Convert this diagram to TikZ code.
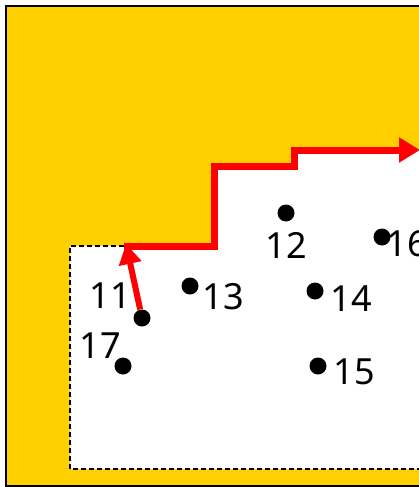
\documentclass[tikz,border=0pt]{standalone}
\usepackage{fontspec}
\setmainfont{Noto Sans}
\usetikzlibrary{positioning, arrows.meta}
\definecolor{amber}{RGB}{255, 207, 0}

\begin{document}
\begin{tikzpicture}[x=1pt, y=-1pt,
    dot/.style={circle, fill=black, inner sep=0pt, minimum size=17pt},
    num/.style={inner sep=0pt, font=\fontsize{36}{40}\selectfont},
    route/.style={draw=red, line width=7pt, -{Triangle[length=21pt, width=24pt]}}]
    \useasboundingbox (0,0) rectangle (419,487);
    \clip (0,0) rectangle (419,487);
    % background and free area
    \draw[fill=amber, line width=2.4pt] (6,6) rectangle (440,486);
    \fill[white] (70,469) -- (70,246) -- (214,246) -- (214,166) -- (294,166)
        -- (294,150) -- (440,150) -- (440,469) -- cycle;
    \draw[dashed, dash pattern=on 5pt off 3pt, line width=1.5pt] (124,246) -- (70,246) -- (70,469) -- (440,469);
    % points
    \node[dot] (p11) at (142,318) {};
    \node[dot] (p12) at (286,213) {};
    \node[dot] (p13) at (190,286) {};
    \node[dot] (p14) at (315,291) {};
    \node[dot] (p15) at (318,366) {};
    \node[dot] (p16) at (382,237) {};
    \node[dot] (p17) at (123,366) {};
    \node[num] (n11) at (110,296) {11};
    \node[num] (n12) at (286,245) {12};
    \node[num] (n13) at (223,297) {13};
    \node[num] (n14) at (351,299) {14};
    \node[num] (n15) at (354,372) {15};
    \node[num] (n16) at (407,244) {16};
    \node[num] (n17) at (100,346) {17};
    % path
    \coordinate (tip) at (126,244);
    \coordinate (start) at (124,246);
    \coordinate (stepa) at (214,166);
    \coordinate (stepb) at (294,150);
    \coordinate (goal) at (420,150);
    \draw[route, line width=6pt, -{Triangle[length=20pt, width=22pt]}] (p11) -- (tip);
    \draw[route, -{Triangle[length=21pt, width=24pt]}] (start) -| (stepa) -| (stepb) -- (goal);
\end{tikzpicture}
\end{document}
